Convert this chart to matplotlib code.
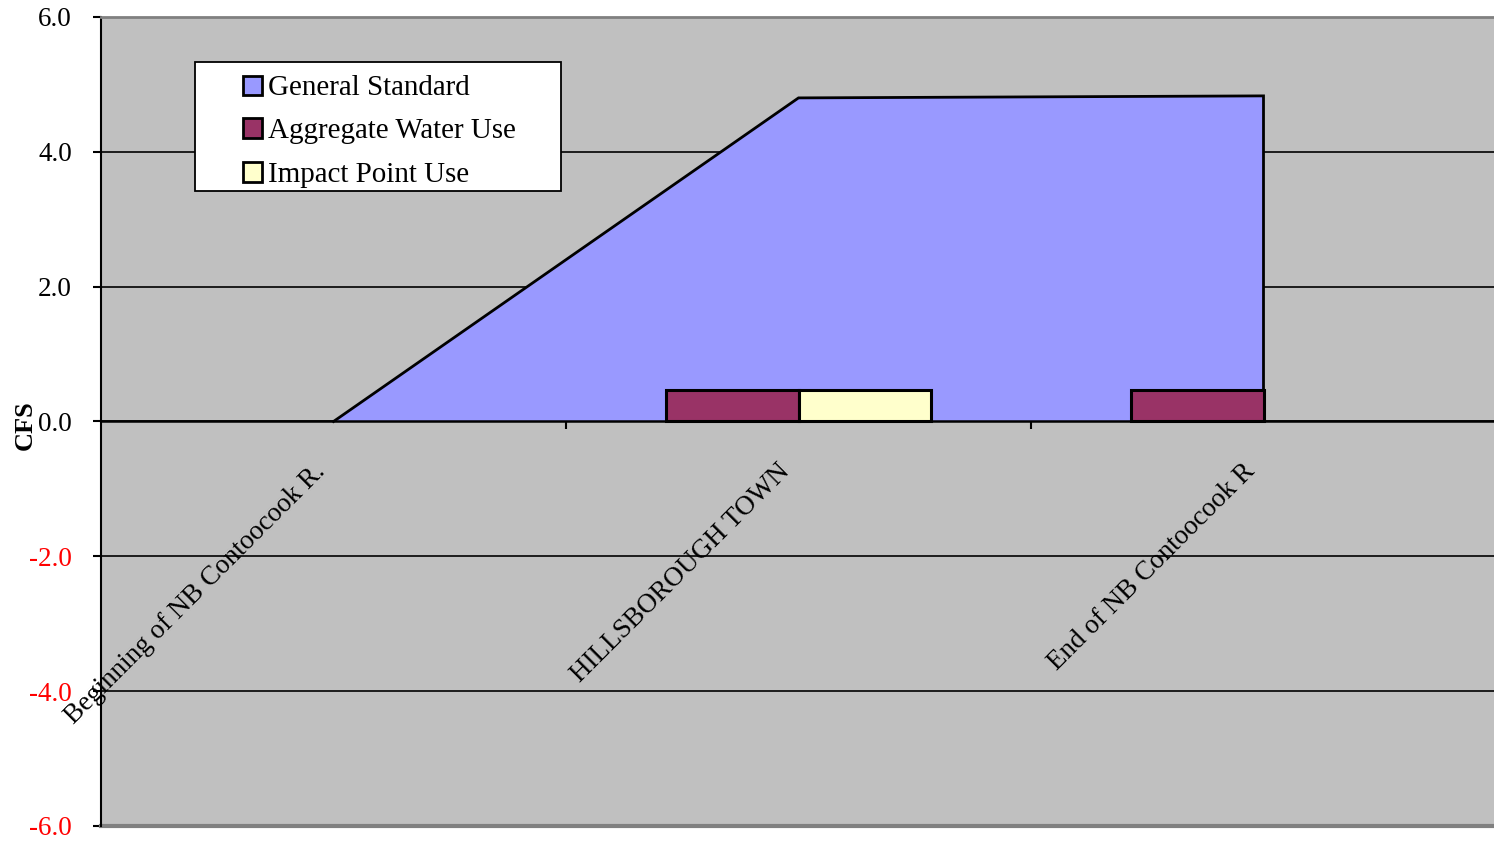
import matplotlib
matplotlib.use("Agg")
import matplotlib.pyplot as plt
from matplotlib.patches import Rectangle
import numpy as np

categories = ["Beginning of NB Contoocook R.", "HILLSBOROUGH TOWN", "End of NB Contoocook R"]
general_standard = [0.0, 4.80, 4.83]
aggregate_use = [0.0, 0.47, 0.47]
impact_use = [0.0, 0.47, 0.0]
yticks = [-6.0, -4.0, -2.0, 0.0, 2.0, 4.0, 6.0]
legend_labels = ['General Standard', 'Aggregate Water Use', 'Impact Point Use']
colors = ['#9999FF', '#993366', '#FFFFCC']

plt.rcParams['font.family'] = ['Liberation Serif', 'DejaVu Serif']

W, H = 1494, 841
fig = plt.figure(figsize=(W / 100, H / 100), dpi=100)
fig.patch.set_facecolor('white')
ax = fig.add_axes([101 / W, 1 - 826 / H, (1496 - 101) / W, (826 - 17) / H])
ax.set_facecolor('#C0C0C0')

x = np.arange(len(categories))
ax.set_xlim(-0.5, len(categories) - 0.5)
ax.set_ylim(-6, 6)

# grid
ax.set_yticks(yticks)
ax.yaxis.grid(True, color='black', linewidth=1.2, zorder=0)
ax.set_axisbelow(True)

# area
ax.fill_between(x, 0, general_standard, color=colors[0], zorder=2, linewidth=0)
ax.plot(list(x) + [x[-1]], general_standard + [0], color='black', linewidth=2, zorder=3,
        solid_joinstyle='miter')

# bars (zero-height bars are invisible)
w = 1 / 3.5
agg = np.array(aggregate_use)
imp = np.array(impact_use)
ma = agg != 0
mi = imp != 0
ax.bar(x[ma] - w / 2, agg[ma], width=w, color=colors[1], edgecolor='black', linewidth=2.2, zorder=4)
ax.bar(x[mi] + w / 2, imp[mi], width=w, color=colors[2], edgecolor='black', linewidth=2.2, zorder=4)

# spines
ax.spines['bottom'].set_position(('data', 0))
ax.spines['bottom'].set_color('black')
ax.spines['bottom'].set_linewidth(1.8)
ax.spines['bottom'].set_zorder(5)
ax.spines['left'].set_color('black')
ax.spines['left'].set_linewidth(1.5)
ax.spines['top'].set_color('#808080')
ax.spines['top'].set_linewidth(2)
ax.spines['right'].set_visible(False)
ax.axhline(-6, color='#808080', linewidth=3, clip_on=False, zorder=1)

# x ticks: boundaries between categories
ax.set_xticks([])
ax.set_xticks([0.5, 1.5], minor=True)
ax.tick_params(axis='x', which='minor', length=6, width=1.5, direction='out', color='black')
ax.tick_params(axis='x', which='major', length=0, labelbottom=False)

# y ticks
ax.tick_params(axis='y', length=6, width=1.5, direction='out', labelsize=19.5, pad=15)
ax.set_yticklabels([f"{v:.1f}" for v in yticks])
for lbl, v in zip(ax.get_yticklabels(), yticks):
    lbl.set_color('red' if v < 0 else 'black')

# category labels
for xi, name in zip(x, categories):
    ax.annotate(name, xy=(xi, 0), xytext=(-21, -37), textcoords='offset pixels',
                ha='right', va='top', rotation=45, rotation_mode='anchor',
                fontsize=19.5, color='black', zorder=6, annotation_clip=False)

fig.text(25 / W, 1 - 425 / H, 'CFS', rotation=90, ha='center', va='center',
         fontsize=19, fontweight='bold')

# legend box drawn in figure pixel coordinates
def fx(px):
    return px / W

def fy(py):
    return 1 - py / H

fig.add_artist(Rectangle((fx(195), fy(191)), fx(561) - fx(195), fy(62) - fy(191),
                         transform=fig.transFigure, facecolor='white', edgecolor='black',
                         linewidth=1.3, zorder=10))
row_y = [85, 128, 172]
for yy, lab, col in zip(row_y, legend_labels, colors):
    fig.add_artist(Rectangle((fx(243), fy(yy + 9.5)), fx(262) - fx(243), fy(yy - 9.5) - fy(yy + 9.5),
                             transform=fig.transFigure, facecolor=col, edgecolor='black',
                             linewidth=2, zorder=11))
    fig.text(fx(268), fy(yy + 3), lab, ha='left', va='center', fontsize=20.9, zorder=12)

fig.savefig('out.png', dpi=100)
